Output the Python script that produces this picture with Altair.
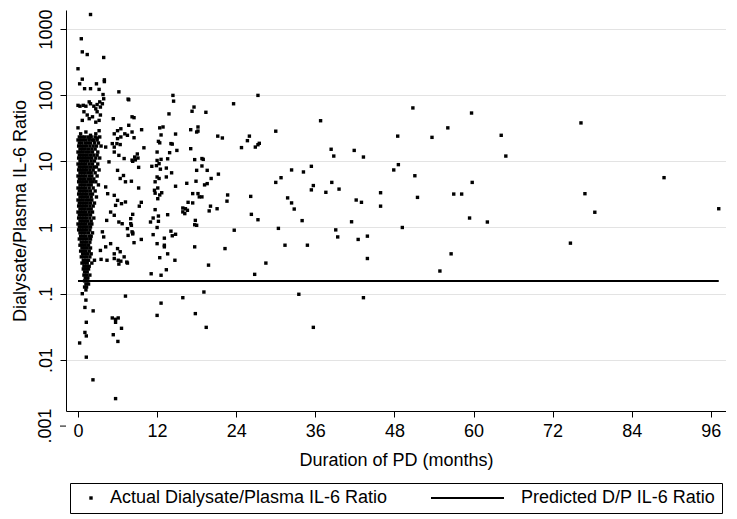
import altair as alt
import pandas as pd

FONT = "Liberation Sans"
FS = 18
ACTUAL = "Actual Dialysate/Plasma IL-6 Ratio"
PRED = "Predicted D/P IL-6 Ratio"

# ---- dense cluster of early-PD patients: (ratio level, months at that level) ----
core_rows = [
    (23.3, [0.2, 0.6, 1.0, 1.5, 2.0, 2.6, 3.3]),
    (21.0, [0.0, 0.4, 0.8, 1.2, 1.7, 2.2, 2.9]),
    (18.9, [0.2, 0.6, 1.1, 1.5, 1.9, 2.5, 3.1]),
    (17.0, [0.1, 0.5, 0.9, 1.3, 1.8, 2.3, 2.8, 3.5]),
    (15.3, [0.3, 0.7, 1.1, 1.6, 2.1, 2.6]),
    (13.8, [0.0, 0.4, 0.8, 1.3, 1.7, 2.2, 3.0]),
    (12.4, [0.2, 0.6, 1.0, 1.4, 1.9, 2.4, 2.9]),
    (11.2, [0.1, 0.5, 0.9, 1.3, 1.7, 2.1, 2.7, 3.3]),
    (10.1, [0.3, 0.7, 1.1, 1.5, 2.0, 2.5]),
    (9.1, [0.0, 0.4, 0.8, 1.2, 1.7, 2.2, 3.0]),
    (8.2, [0.2, 0.6, 1.0, 1.4, 1.9, 2.4, 2.8]),
    (7.4, [0.1, 0.5, 0.9, 1.3, 1.8, 2.3, 3.2]),
    (6.7, [0.3, 0.7, 1.1, 1.6, 2.0, 2.6]),
    (6.0, [0.0, 0.4, 0.8, 1.2, 1.7, 2.1, 2.9]),
    (5.4, [0.2, 0.6, 1.0, 1.5, 1.9, 2.4]),
    (4.9, [0.1, 0.5, 0.9, 1.3, 1.8, 2.2, 2.7]),
    (4.4, [0.3, 0.7, 1.1, 1.6, 2.0, 3.1]),
    (3.95, [0.0, 0.4, 0.8, 1.2, 1.7, 2.3]),
    (3.56, [0.2, 0.6, 1.0, 1.4, 1.9, 2.6]),
    (3.2, [0.1, 0.5, 0.9, 1.3, 1.8, 2.2]),
    (2.89, [0.3, 0.7, 1.1, 1.5, 2.0, 2.8]),
    (2.6, [0.0, 0.4, 0.8, 1.3, 1.7, 2.1]),
    (2.34, [0.2, 0.6, 1.0, 1.4, 1.9, 2.5]),
    (2.11, [0.1, 0.5, 0.9, 1.3, 1.8, 2.3]),
    (1.90, [0.3, 0.7, 1.1, 1.6, 2.0]),
    (1.71, [0.0, 0.4, 0.8, 1.2, 1.7, 2.2]),
    (1.55, [0.2, 0.6, 1.0, 1.4, 1.9]),
    (1.39, [0.1, 0.5, 0.9, 1.3, 1.8, 2.4]),
    (1.25, [0.3, 0.7, 1.1, 1.5, 2.0]),
    (1.13, [0.0, 0.4, 0.8, 1.2, 1.7, 2.1]),
    (1.02, [0.2, 0.6, 1.0, 1.4, 1.9]),
    (0.92, [0.1, 0.5, 0.9, 1.3, 1.8]),
    (0.83, [0.3, 0.7, 1.1, 1.6, 2.2]),
    (0.74, [0.4, 0.8, 1.2, 1.7, 2.0]),
    (0.67, [0.2, 0.6, 1.0, 1.4, 1.9]),
    (0.60, [0.5, 0.9, 1.3, 1.8]),
    (0.54, [0.3, 0.7, 1.1, 1.6]),
    (0.49, [0.6, 1.0, 1.4, 1.9]),
    (0.44, [0.4, 0.8, 1.2, 1.7]),
    (0.40, [0.7, 1.1, 1.5, 2.0]),
    (0.36, [0.5, 0.9, 1.3, 1.8]),
    (0.32, [0.8, 1.2, 1.6]),
    (0.29, [0.6, 1.0, 1.4, 2.1]),
    (0.26, [0.9, 1.3, 1.7]),
    (0.236, [0.8, 1.2, 1.6]),
    (0.213, [1.0, 1.4]),
    (0.191, [0.9, 1.3, 1.8]),
    (0.173, [1.1, 1.5]),
    (0.156, [1.0, 1.4]),
    (0.140, [1.2, 1.6]),
    (0.126, [1.0, 1.3]),
    (0.114, [1.2]),
]

# ---- scattered points (months, ratio) ----
early_months = [1.9, 0.5, 0.65, 1.4, 3.9, 0.0, 0.65, 0.25, 4.0, 4.0, 2.8, 1.9, 1.0, 3.2, 3.8, 6.2, 7.6,
                0.0, 0.3, 0.8, 1.2, 1.7, 1.9, 2.4, 2.9, 3.3, 3.7, 3.9, 3.4, 2.7,
                0.9, 1.4, 1.7, 0.65, 2.2, 2.9, 3.4, 2.7, 3.2, 5.35, 0.0, 6.0, 6.5, 8.2,
                0.4, 1.2, 1.9, 2.7, 3.2, 1.7, 2.4, 2.9, 6.0, 6.5,
                4.2, 5.5, 5.9, 7.0, 7.5, 8.2, 5.5, 6.2, 4.7, 6.0, 6.9, 6.4, 7.2, 4.2, 4.5, 5.5,
                6.0, 6.6, 7.2, 5.7, 4.95, 5.5, 4.35, 6.2, 6.7, 7.5, 8.0, 8.2, 3.7, 3.9, 4.2, 3.4,
                4.95, 6.0, 6.4, 7.0, 7.4, 5.5, 4.4, 6.4, 5.2, 8.2, 7.1, 5.5, 3.5, 5.5, 2.5, 6.1, 6.5,
                7.2, 0.65, 1.2, 1.05, 2.3, 1.26, 5.2, 5.7, 6.1, 5.7, 6.6, 5.35, 6.05, 1.05, 1.26,
                0.25, 1.26, 2.27, 5.7, 6.2, 7.5]
early_ratios = [1650, 710, 450, 410, 370, 250, 174, 148, 170, 160, 148, 125, 125, 122, 102, 112, 87,
                70, 68, 70, 68, 79, 74, 68, 72, 79, 74, 88, 66, 62,
                56, 50, 44, 41.5, 47, 56, 50, 39, 41.5, 44, 32, 29, 31, 47,
                26, 27.7, 24.7, 26, 29, 22, 20.8, 22.5, 22, 23.3,
                16.4, 16.4, 18.5, 11, 24.7, 10.4, 13.8, 12.3, 9.8, 7.3, 6.1, 5.5, 4.9, 4.1, 3.24, 3.06,
                2.57, 2.29, 2.43, 2.16, 1.71, 1.53, 1.28, 1.21, 1.14, 0.96, 1.36, 0.86, 0.86, 0.72, 0.51, 0.45,
                0.57, 0.48, 0.43, 0.36, 0.30, 0.34, 0.32, 17.9, 18.5, 27.7, 26, 26, 0.33, 0.40, 0.32, 0.32, 0.31,
                0.092, 0.1, 0.08, 0.062, 0.055, 0.037, 0.043, 0.041, 0.043, 0.037, 0.030, 0.024, 0.019, 0.026, 0.023,
                0.018, 0.011, 0.005, 0.0026, 0.28, 0.29]

mid_months = [14.4, 14.5, 7.7, 13.8, 17.6, 17.3, 8.5, 7.7, 9.65, 12.9, 12.4, 17.1, 18.2, 18.0, 8.5, 12.6,
              14.8, 12.2, 12.4, 14.1, 14.3, 10.0, 17.1, 13.9, 15.0, 12.0, 9.0, 8.6, 8.3, 8.7, 9.1, 12.0,
              12.3, 11.9, 12.5, 11.2, 13.6, 12.6, 9.2, 13.4, 17.7, 19.0, 18.0, 18.8, 19.6, 8.1, 14.2, 12.0,
              11.7, 12.3, 13.4, 17.9, 16.5, 14.8, 9.2, 11.6, 12.1, 11.7, 12.4, 12.7, 12.1, 17.4, 18.2, 18.4,
              18.8, 16.7, 17.4, 9.6, 9.3, 15.9, 16.3, 15.9, 16.2, 16.6, 8.3, 11.7, 11.4, 12.2, 11.0, 12.2,
              12.0, 13.6, 17.8, 18.0, 17.7, 8.0, 8.1, 8.3, 7.6, 14.1, 14.3, 14.8,
              9.6, 8.5, 11.4, 13.1, 12.0, 13.1, 13.1, 13.6, 12.4, 14.7, 17.7, 22.3, 19.8, 11.1, 12.6, 13.4,
              26.8, 19.1, 12.6, 15.9, 12.0, 17.8, 19.45, 8.3,
              19.4, 18.2, 18.8, 19.2, 19.6, 20.2, 21.3, 20.1, 19.9, 21.1, 21.2, 21.9, 23.6, 24.8, 25.7, 26.0,
              22.6, 22.7, 23.7]
mid_ratios = [99, 81, 85, 52, 66, 57, 45.6, 35, 30, 33, 32, 30, 33, 27.7, 22.7, 25,
              25.8, 20, 19, 18.5, 18.2, 16, 15.5, 13.5, 14.6, 13.8, 12.9, 11.6, 10, 10.5, 11.2, 10.3,
              9.2, 8.6, 7.6, 8.4, 10.9, 10.7, 8.1, 7.9, 10.6, 10.7, 7.3, 8.5, 7.3, 5.0, 6.7, 5.8,
              4.9, 5.5, 5.8, 5.0, 4.65, 4.2, 3.95, 3.65, 3.95, 3.3, 3.1, 3.35, 2.72, 3.25, 3.25, 2.9,
              2.9, 2.4, 2.35, 2.4, 2.1, 1.97, 1.92, 1.72, 1.62, 1.82, 1.58, 1.86, 1.39, 1.49, 1.21, 1.24,
              1.0, 1.56, 1.28, 1.08, 1.1, 1.14, 1.08, 0.83, 0.76, 0.88, 0.75, 0.79,
              0.66, 0.59, 0.78, 0.69, 0.57, 0.54, 0.51, 0.40, 0.35, 0.32, 0.51, 0.48, 0.27, 0.20, 0.19, 0.23,
              0.196, 0.106, 0.072, 0.087, 0.047, 0.050, 0.031, 0.8,
              55, 28.6, 11.0, 4.4, 4.6, 5.5, 6.4, 2.1, 1.78, 1.92, 24, 22.5, 74, 16.1, 20.5, 24,
              2.5, 3.1, 0.91]

late_months = [27.3, 50.8, 36.8, 56.1, 30.0, 26.9, 27.3, 27.5, 48.5, 53.7, 38.4, 38.8, 41.9, 43.3, 47.9,
               48.6, 51.1, 32.4, 34.2, 35.4, 30.0, 30.8, 38.5, 35.7, 35.4, 37.6, 39.6, 26.2, 31.8, 32.4,
               32.8, 42.2, 43.0, 45.9, 45.9, 51.5, 57.0, 26.3, 27.3, 34.0, 41.5, 30.4, 49.2, 39.1, 39.4,
               42.5, 43.9, 28.5, 31.4, 34.8, 43.9, 54.9, 56.6, 33.5, 43.3, 35.7,
               59.7, 59.8, 58.2, 59.4, 62.1, 76.3, 64.2, 64.9, 88.9, 76.9, 78.4, 97.2, 74.7]
late_ratios = [99, 64, 41, 32, 28.5, 16.4, 17.8, 18.7, 24, 23, 15.2, 12.0, 14.6, 11.6, 7.4,
               8.9, 6.05, 7.4, 6.9, 8.4, 4.8, 5.65, 4.8, 4.3, 3.7, 3.4, 3.8, 2.95, 2.8, 2.35,
               1.9, 2.6, 2.4, 3.35, 2.1, 2.85, 3.2, 1.58, 1.31, 1.27, 1.22, 0.97, 1.0, 0.92, 0.72,
               0.66, 0.74, 0.29, 0.54, 0.54, 0.34, 0.22, 0.40, 0.098, 0.087, 0.031,
               53.6, 4.8, 3.2, 1.39, 1.21, 38, 24.7, 12.0, 5.66, 3.24, 1.7, 1.92, 0.58]

# ---- predicted D/P ratio (constant over observed follow-up) ----
pred_months = [0.0, 97.2]
pred_ratios = [0.155, 0.155]

y_ticks = [0.01, 0.1, 1, 10, 100, 1000]
x_ticks = [0, 12, 24, 36, 48, 60, 72, 84, 96]
below_label = [0.001]

months, ratios = [], []
for r, ms in core_rows:
    for m in ms:
        months.append(m)
        ratios.append(r)
months += early_months + mid_months + late_months
ratios += early_ratios + mid_ratios + late_ratios

df_pts = pd.DataFrame({"month": months, "ratio": ratios, "series": ACTUAL})
df_line = pd.DataFrame({"month": pred_months, "ratio": pred_ratios})
df_extra = pd.DataFrame({"v": below_label, "t": [".001"]})

# legend / marker glyphs (unit box is 2 px with size 16)
SQUARE = "M-0.85,-0.85L0.85,-0.85L0.85,0.85L-0.85,0.85Z"
LINE = "M-35.5,-0.45L1,-0.45L1,0.45L-35.5,0.45Z"

xscale = alt.Scale(domain=[-1.82, 98.3], nice=False, zero=False)
yscale = alt.Scale(type="log", domain=[0.00169, 1930], nice=False)

xaxis = alt.Axis(values=x_ticks, title="Duration of PD (months)", grid=False,
                 tickSize=6, labelPadding=5, titlePadding=11, format="d")
yaxis = alt.Axis(values=y_ticks, title="Dialysate/Plasma IL-6 Ratio", grid=True,
                 gridColor="#e3e3e3", gridWidth=1.2, tickSize=6, labelPadding=9,
                 labelAngle=270, labelAlign="center", labelBaseline="alphabetic",
                 labelExpr="datum.value >= 1 ? format(datum.value, 'd') : replace(format(datum.value, '~g'), '0.', '.')",
                 titlePadding=8)

points = alt.Chart(df_pts).mark_point(filled=True, size=16, opacity=1, color="black").encode(
    x=alt.X("month:Q", scale=xscale, axis=xaxis),
    y=alt.Y("ratio:Q", scale=yscale, axis=yaxis),
    shape=alt.Shape("series:N",
                    scale=alt.Scale(domain=[ACTUAL, PRED], range=[SQUARE, LINE]),
                    legend=alt.Legend(title=None, orient="none", legendX=4, legendY=473,
                                      direction="horizontal", columns=2, columnPadding=43,
                                      strokeColor="black", padding=6, labelFontSize=FS,
                                      labelFont=FONT, labelColor="black", labelOffset=10,
                                      labelLimit=0, symbolSize=16, symbolFillColor="black",
                                      symbolStrokeWidth=0, symbolOffset=6)),
)

line = alt.Chart(df_line).mark_line(color="black", strokeWidth=2).encode(
    x="month:Q", y="ratio:Q")

extra_text = alt.Chart(df_extra).mark_text(angle=270, fontSize=FS, font=FONT, align="center",
                                           baseline="alphabetic", color="black").encode(
    x=alt.value(-15), y="v:Q", text="t:N")
extra_tick = alt.Chart(df_extra).mark_rule(color="black").encode(
    x=alt.value(-6), x2=alt.value(0), y="v:Q")

chart = alt.layer(points, line, extra_tick, extra_text).properties(
    width=660, height=401, background="white",
    padding={"left": 2, "top": 0, "right": 0, "bottom": 0}
).configure_axis(
    domainColor="black", tickColor="black", labelColor="black", titleColor="black",
    labelFont=FONT, titleFont=FONT, labelFontSize=FS, titleFontSize=FS, titleFontWeight="normal",
    domainWidth=1, tickWidth=1
).configure_view(stroke=None)

chart.save("out.html", embed_options={"renderer": "svg", "actions": False})
